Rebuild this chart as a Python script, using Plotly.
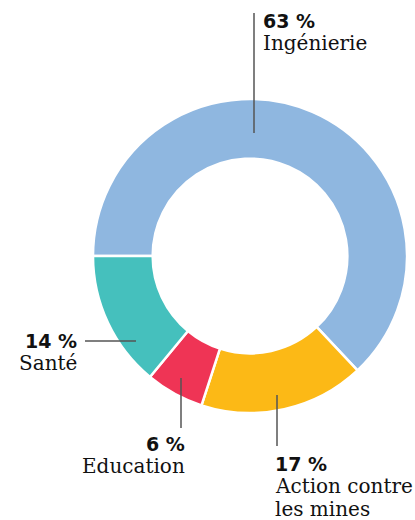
import plotly.graph_objects as go

# Data
categories = ["Ingénierie", "Action contre les mines", "Education", "Santé"]
values = [63, 17, 6, 14]
pct_labels = ["63 %", "17 %", "6 %", "14 %"]
name_lines = [["Ingénierie"], ["Action contre", "les mines"], ["Education"], ["Santé"]]
colors = ["#8fb7e0", "#fcb916", "#ef3455", "#45c0bd"]

W, H = 415, 520


def px(x):
    return x / W


def py(y):
    return 1 - y / H


cx, cy, R = 250, 256, 157

fig = go.Figure(
    go.Pie(
        labels=categories,
        values=values,
        hole=0.62,
        sort=False,
        direction="clockwise",
        rotation=270,
        marker=dict(colors=colors, line=dict(color="white", width=2.5)),
        textinfo="none",
        hoverinfo="label+percent",
        domain=dict(x=[px(cx - R), px(cx + R)], y=[py(cy + R), py(cy - R)]),
        showlegend=False,
    )
)

# leader lines (x0, y0, x1, y1) in pixels
leaders = [
    (254, 13, 254, 133),   # Ingénierie
    (277, 395, 277, 446),  # Action
    (181, 378, 181, 428),  # Education
    (85, 341, 136, 341),   # Santé
]
for x0, y0, x1, y1 in leaders:
    fig.add_shape(type="line", xref="paper", yref="paper",
                  x0=px(x0), y0=py(y0), x1=px(x1), y1=py(y1),
                  line=dict(color="#555555", width=1.5))

# label positions: (x, first baseline y, anchor)
label_pos = [
    (262, 27, "left"),
    (274, 470, "left"),
    (186, 450, "right"),
    (78, 347, "right"),
]
serif = "DejaVu Serif"
sans = "DejaVu Sans"
for i, (x, yb, anchor) in enumerate(label_pos):
    fig.add_annotation(x=px(x), y=py(yb + 6), xref="paper", yref="paper",
                       text="<b>" + pct_labels[i] + "</b>", showarrow=False,
                       xanchor=anchor, yanchor="bottom", borderpad=0,
                       font=dict(family=sans, size=19, color="#111111"))
    for j, line in enumerate(name_lines[i]):
        fig.add_annotation(x=px(x), y=py(yb + 23 * (j + 1) + 6), xref="paper", yref="paper",
                           text=line, showarrow=False,
                           xanchor=anchor, yanchor="bottom", borderpad=0,
                           font=dict(family=serif, size=20, color="#111111"))

fig.update_layout(
    width=W, height=H,
    margin=dict(l=0, r=0, t=0, b=0),
    paper_bgcolor="white", plot_bgcolor="white",
)

fig.write_html("out.html", config={"displayModeBar": False},
               post_script="document.body.style.margin='0';")
